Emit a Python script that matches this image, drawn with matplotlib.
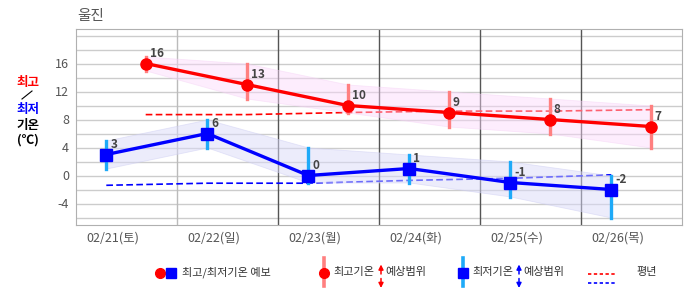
import matplotlib

matplotlib.use("Agg")
import matplotlib.pyplot as plt
from matplotlib.lines import Line2D

plt.rcParams["font.family"] = ["Noto Sans CJK KR", "DejaVu Sans"]

days = ["02/21(토)", "02/22(일)", "02/23(월)", "02/24(화)", "02/25(수)", "02/26(목)"]
max_temp = [16, 13, 10, 9, 8, 7]
max_hi = [17, 16, 13, 12, 11, 10]
max_lo = [15, 11, 9, 7, 6, 4]
min_temp = [3, 6, 0, 1, -1, -2]
min_hi = [5, 8, 4, 3, 2, 0]
min_lo = [1, 4, -1, -1, -3, -6]
normal_max = [8.7, 8.7, 9.0, 9.2, 9.2, 9.4]
normal_min = [-1.4, -1.1, -1.1, -0.7, -0.4, 0.1]

W, H = 686, 295
RED = "#ff0000"
BLUE = "#0000ff"
RED_BAR = "#ff8080"
BLUE_BAR = "#1eaaf8"
TXT = "#555555"

fig = plt.figure(figsize=(W / 100, H / 100), dpi=100)
ax = fig.add_axes([76 / W, 1 - 224.5 / H, 606 / W, 196 / H])

x_max = [i + 0.69 for i in range(len(days))]
x_min = [i + 0.30 for i in range(len(days))]

# grid
for y in range(-6, 21, 2):
    ax.axhline(y, color="#cccccc", lw=1, zorder=0)
for i in range(1, len(days)):
    ax.axvline(i, color="#bbbbbb" if i == 1 else "#555555", lw=1, zorder=0.5)

# normals (under the bands)
ax.plot(x_max, normal_max, color=RED, lw=1.2, ls=(0, (4, 2)), zorder=1)
ax.plot(x_min, normal_min, color=BLUE, lw=1.2, ls=(0, (4, 2)), zorder=1)

# range bands
ax.fill_between(x_max, max_lo, max_hi, facecolor="#fbd8fb", edgecolor="#f5d0f5",
                lw=0.6, alpha=0.45, zorder=2)
ax.fill_between(x_min, min_lo, min_hi, facecolor="#dadaf9", edgecolor="#cdcdf2",
                lw=0.6, alpha=0.5, zorder=2)

# range bars
ax.vlines(x_max, max_lo, max_hi, color=RED_BAR, lw=2.4, zorder=3, capstyle="projecting")
ax.vlines(x_min, min_lo, min_hi, color=BLUE_BAR, lw=2.4, zorder=3, capstyle="projecting")

# forecast lines
ax.plot(x_max, max_temp, color=RED, lw=2.4, marker="o", ms=8, zorder=4)
ax.plot(x_min, min_temp, color=BLUE, lw=2.4, marker="s", ms=8, zorder=4)

for xs, vals in [(x_max, max_temp), (x_min, min_temp)]:
    for x, v in zip(xs, vals):
        ax.annotate(str(v), (x, v), xytext=(3, 2.5), textcoords="offset points",
                    ha="left", va="bottom", fontsize=8.5, fontweight="bold",
                    color="#444444", zorder=5)

ax.set_xlim(0, len(days))
ax.set_ylim(-7, 21)
ax.set_yticks(range(-4, 17, 4))
ax.set_yticklabels([str(v) for v in range(-4, 17, 4)])
ax.set_xticks([i + 0.36 for i in range(len(days))])
ax.set_xticklabels(days)
ax.tick_params(length=0, labelsize=9, colors=TXT, pad=5)
for s in ax.spines.values():
    s.set_color("#b0b0b0")

fig.text(77 / W, 1 - 16 / H, "울진", fontsize=10.5, color=TXT, va="center", ha="left")

# left y label
def ftext(x, y, s, **kw):
    fig.text(x / W, 1 - y / H, s, ha="center", va="center", **kw)

ftext(28, 82, "최고", color=RED, fontsize=9, fontweight="bold")
fig.add_artist(Line2D([22 / W, 32 / W], [1 - 99 / H, 1 - 91 / H], color="black", lw=0.8))
ftext(28, 109.5, "최저", color=BLUE, fontsize=9, fontweight="bold")
ftext(28, 125, "기온", color="black", fontsize=9, fontweight="bold")
ftext(28, 140, "(℃)", color="black", fontsize=9, fontweight="bold")

# legend
LY = 272.5


def fy(y):
    return 1 - y / H


def lg_marker(x, marker, color, ms=7):
    fig.add_artist(Line2D([x / W], [fy(LY)], marker=marker, color=color, ms=ms, ls="none"))


def lg_text(x, s):
    fig.text(x / W, fy(LY), s, fontsize=8, color="#333333", ha="left", va="center")


def lg_arrows(x, color):
    ax.annotate("", xy=(x, H - 264.5), xytext=(x, H - 274), xycoords="figure pixels",
                arrowprops=dict(arrowstyle="-|>", color=color, lw=1.1, mutation_scale=7,
                                shrinkA=0, shrinkB=0))
    ax.annotate("", xy=(x, H - 288), xytext=(x, H - 278.5), xycoords="figure pixels",
                arrowprops=dict(arrowstyle="-|>", color=color, lw=1.1, mutation_scale=7,
                                shrinkA=0, shrinkB=0))


lg_marker(160, "o", RED)
lg_marker(171, "s", BLUE, ms=6.5)
lg_text(182, "최고/최저기온 예보")

fig.add_artist(Line2D([324 / W] * 2, [fy(258), fy(286)], color=RED_BAR, lw=2.6))
lg_marker(324, "o", RED)
lg_text(333, "최고기온")
lg_arrows(381, RED)
lg_text(385, "예상범위")

fig.add_artist(Line2D([463 / W] * 2, [fy(258), fy(286)], color=BLUE_BAR, lw=2.6))
lg_marker(463, "s", BLUE, ms=6.5)
lg_text(472, "최저기온")
lg_arrows(519, BLUE)
lg_text(523, "예상범위")

fig.add_artist(Line2D([588 / W, 616 / W], [fy(274)] * 2, color=RED, lw=1.2, ls=(0, (2, 1.5))))
fig.add_artist(Line2D([588 / W, 616 / W], [fy(283)] * 2, color=BLUE, lw=1.2, ls=(0, (2, 1.5))))
lg_text(636, "평년")

fig.savefig("out.png", dpi=100)
